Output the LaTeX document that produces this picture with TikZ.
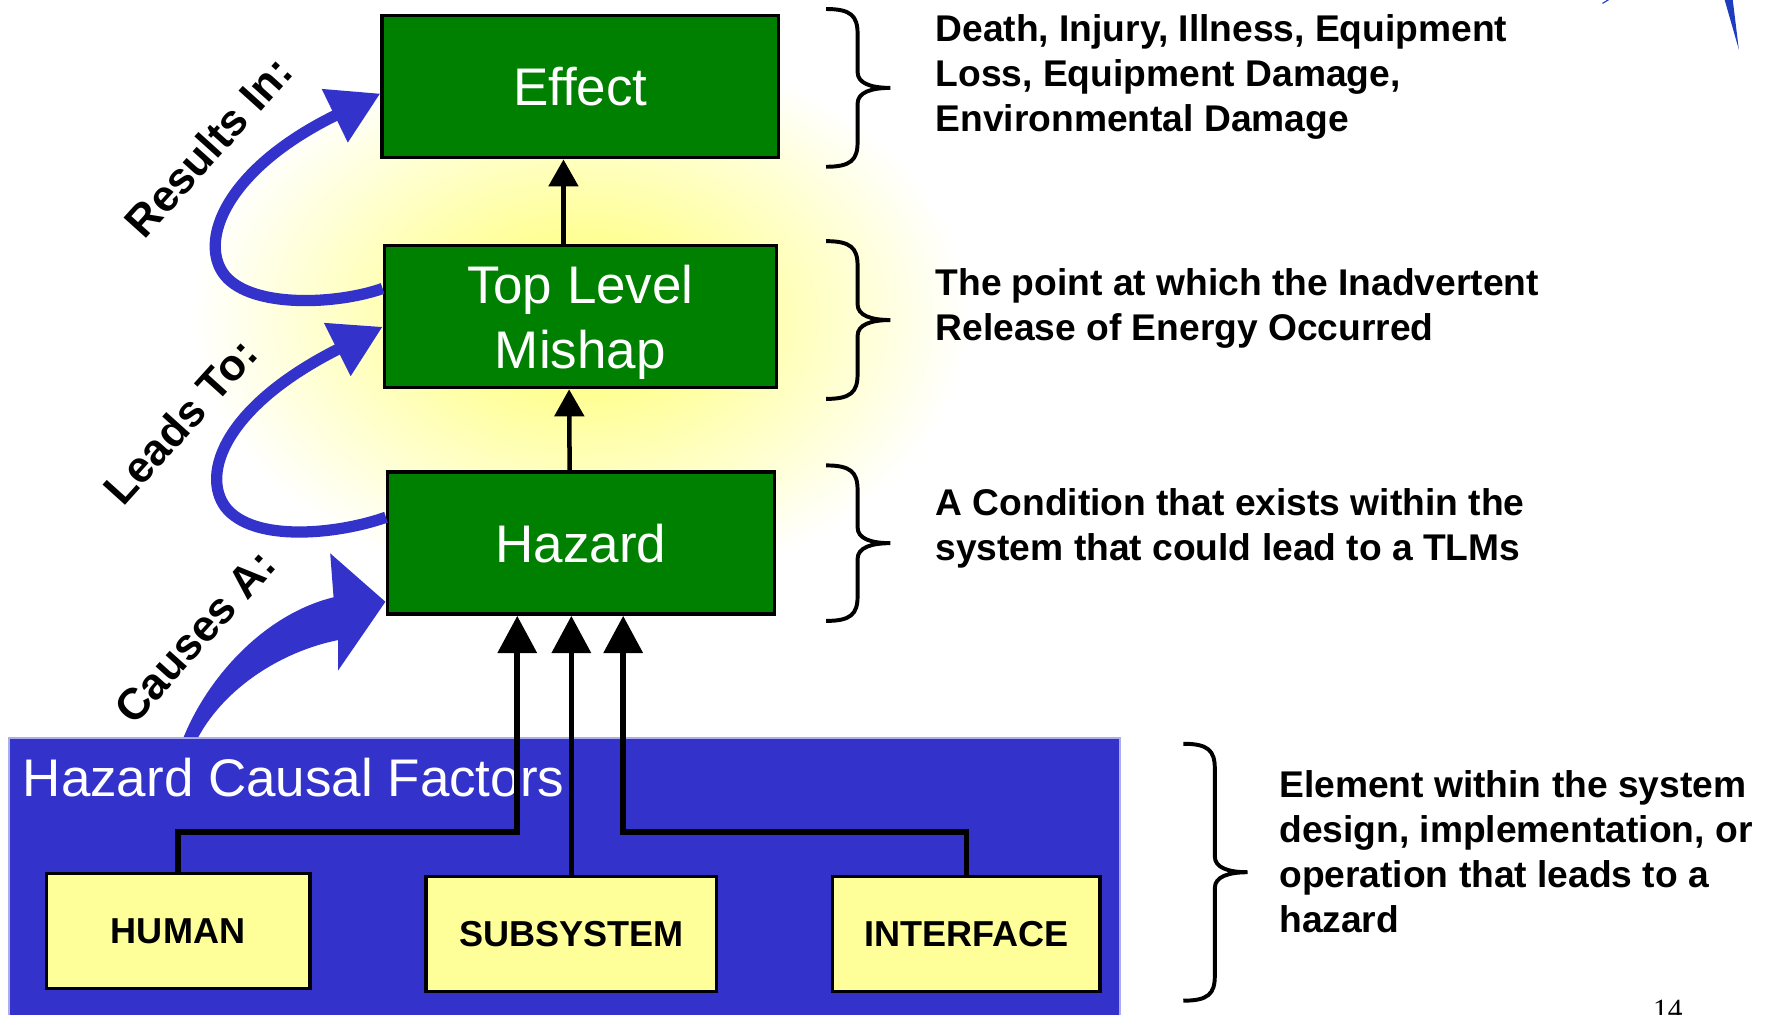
\documentclass[tikz,border=0pt]{standalone}
\usepackage{fontspec}
\setmainfont{Liberation Sans}
\newfontfamily\pagenumfont{Liberation Serif}
\usepackage{tikz}
\usetikzlibrary{arrows.meta, positioning}
\definecolor{boxgreen}{RGB}{0,128,0}
\definecolor{panelblue}{RGB}{51,51,204}
\definecolor{causeyellow}{RGB}{255,255,153}
\definecolor{glowyellow}{RGB}{255,255,90}
\definecolor{slideblue}{RGB}{30,60,190}

\begin{document}
\begin{tikzpicture}[x=1pt, y=1pt,
    stagebox/.style={draw=black, line width=3pt, fill=boxgreen, text=white, inner sep=0pt,
      minimum height=126pt, align=center, font=\fontsize{47}{57}\selectfont},
    factorbox/.style={draw=black, line width=3pt, fill=causeyellow, inner sep=0pt,
      minimum height=102pt, font=\fontsize{32}{38}\selectfont\bfseries},
    desctext/.style={anchor=west, align=left, inner sep=0pt, font=\fontsize{33}{40}\selectfont\bfseries},
    steplabel/.style={rotate=48, inner sep=0pt, font=\fontsize{39}{44}\selectfont\bfseries},
    causearrow/.style={line width=5pt, -{Triangle[width=34pt, length=33pt]}},
    stagearrow/.style={line width=4pt, -{Triangle[width=26pt, length=24pt]}},
    curlarrow/.style={line width=10pt, panelblue, -{Triangle[width=50pt, length=45pt]}}]
  \useasboundingbox (0,0) rectangle (1568,900);
  \clip (0,0) rectangle (1568,900);
  % Glow behind the stages
  \shade[inner color=glowyellow!90, outer color=white] (515,619) ellipse (345 and 245);
  % Causal factor panel
  \fill[panelblue, draw=panelblue!40!white, line width=1.5pt] (8,-10) rectangle (994,245);
  \node[anchor=west, inner sep=0pt, text=white, font=\fontsize{47}{57}\selectfont] (panelTitle) at (20,210) {Hazard Causal Factors};
  % Stages
  \node[stagebox, minimum width=352pt] (effect) at (515,823) {Effect};
  \node[stagebox, minimum width=348pt] (tlm) at (515,619) {};
  \node[text=white, align=center, inner sep=0pt, font=\fontsize{47}{57}\selectfont] (tlmText) at ([yshift=-5pt]tlm.center) {Top Level\\Mishap};
  \node[stagebox, minimum width=343pt] (hazard) at (515.5,418) {Hazard};
  % Factors
  \node[factorbox, minimum width=234pt] (human) at (158,74) {HUMAN};
  \node[factorbox, minimum width=258pt] (subsys) at (507,71) {SUBSYSTEM};
  \node[factorbox, minimum width=237pt] (iface) at (857.5,71) {INTERFACE};
  % Connectors
  \draw[causearrow] (human.north) -- ++(0,35) -| ([xshift=-56.5pt]hazard.south);
  \draw[causearrow] (subsys.north) -- (subsys.north |- hazard.south);
  \draw[causearrow] (iface.north) -- ++(0,38) -| ([xshift=37.5pt]hazard.south);
  \draw[stagearrow] ([xshift=-10pt]hazard.north) -- ([xshift=-10pt]tlm.south);
  \draw[stagearrow] ([xshift=-15pt]tlm.north) -- ([xshift=-15pt]effect.south);
  % Curled arrows on the left
  \draw[curlarrow] ([yshift=25pt]tlm.west) .. controls (300,630) and (225,626) .. (200,655)
        .. controls (175,685) and (200,750) .. ([yshift=-6pt]effect.west);
  \draw[curlarrow] ([yshift=23pt]hazard.west) .. controls (300,426) and (225,418) .. (200,450)
        .. controls (178,480) and (200,540) .. ([yshift=-9pt]tlm.west);
  \fill[panelblue] (163,246) .. controls (185,300) and (235,355) .. (296,370) -- (293,409)
        -- (342,366) -- (300,305) -- (300,332) .. controls (250,322) and (200,290) .. (176,246) -- cycle;
  \node[steplabel] (resultsLbl) at (185,770) {Results In:};
  \node[steplabel] (leadsLbl) at (160,526) {Leads To:};
  \node[steplabel] (causesLbl) at (173,335) {Causes A:};
  % Braces
  \foreach \bx/\bt/\bb in {733/892/752, 733/686/546, 733/487/349, 1050/240/12}{
    \pgfmathsetmacro{\bmid}{(\bt+\bb)/2}
    \draw[line width=3.5pt] (\bx,\bt) .. controls (\bx+22,\bt) and (\bx+28,\bt-6) .. (\bx+28,\bt-22)
        -- (\bx+28,\bmid+14) .. controls (\bx+28,\bmid+4) and (\bx+40,\bmid) .. (\bx+57,\bmid)
        .. controls (\bx+40,\bmid) and (\bx+28,\bmid-4) .. (\bx+28,\bmid-14)
        -- (\bx+28,\bb+22) .. controls (\bx+28,\bb+6) and (\bx+22,\bb) .. (\bx,\bb);
  }
  % Descriptions
  \node[desctext] (effectDesc) at (830,832) {Death, Injury, Illness, Equipment\\Loss, Equipment Damage,\\Environmental Damage};
  \node[desctext] (tlmDesc) at (830,626) {The point at which the Inadvertent\\Release of Energy Occurred};
  \node[desctext] (hazardDesc) at (830,431) {A Condition that exists within the\\system that could lead to a TLMs};
  \node[desctext] (factorDesc) at (1135,144) {Element within the system\\design, implementation, or\\operation that leads to a\\hazard};
  % Slide leftovers
  \fill[slideblue] (1529,905) -- (1537,905) -- (1543,856) -- cycle;
  \draw[slideblue, line width=1pt] (1422,897) -- (1432,903);
  \node[anchor=north, inner sep=0pt, font=\pagenumfont\fontsize{26}{30}\selectfont] (pageNum) at (1480,13) {14};
\end{tikzpicture}
\end{document}
